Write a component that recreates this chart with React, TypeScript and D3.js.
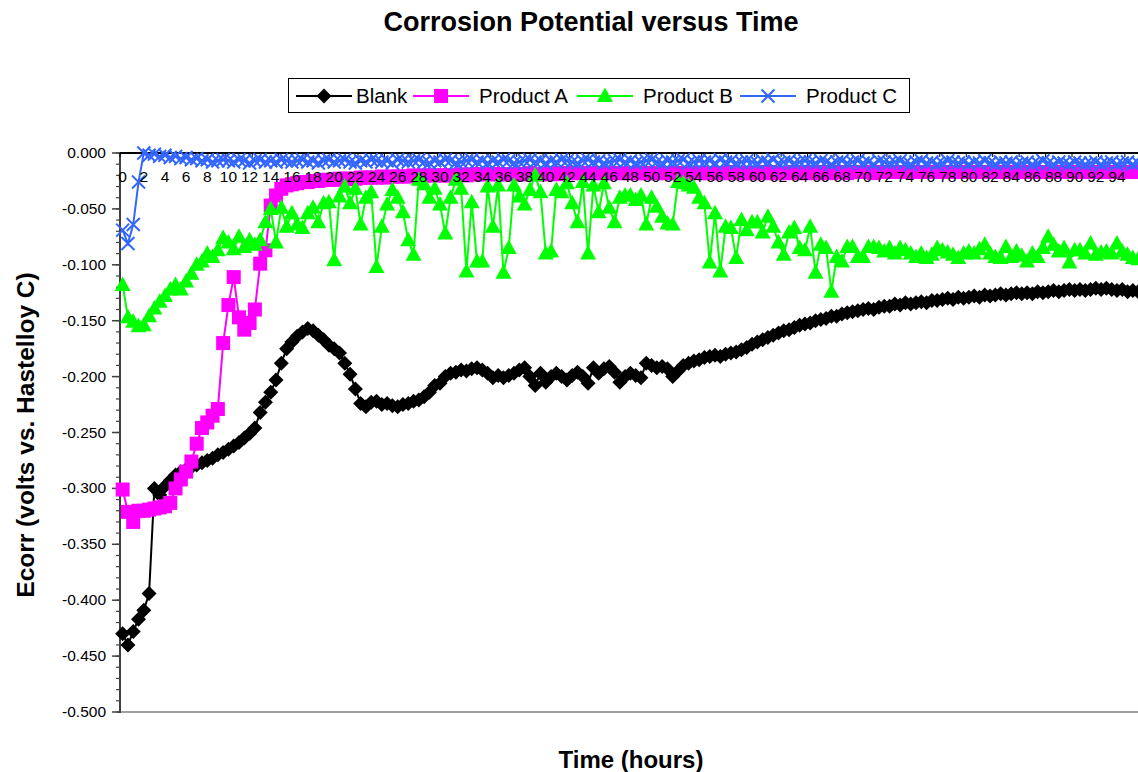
import * as d3 from 'd3';

// time categories, one reading every half hour
const hours = d3.range(0, 96.5, 0.5);

// Ecorr readings (volts vs. Hastelloy C)
const blank = [
  -0.430, -0.440, -0.428, -0.417, -0.409, -0.394, -0.300, -0.306, -0.298, -0.293,
  -0.288, -0.285, -0.283, -0.281, -0.279, -0.277, -0.275, -0.273, -0.270, -0.268,
  -0.265, -0.262, -0.259, -0.255, -0.251, -0.246, -0.232, -0.223, -0.214, -0.203,
  -0.188, -0.175, -0.169, -0.164, -0.160, -0.157, -0.159, -0.163, -0.167, -0.172,
  -0.175, -0.179, -0.188, -0.198, -0.211, -0.224, -0.227, -0.223, -0.222, -0.225,
  -0.224, -0.226, -0.227, -0.225, -0.224, -0.222, -0.221, -0.218, -0.214, -0.208,
  -0.206, -0.200, -0.197, -0.196, -0.194, -0.195, -0.193, -0.192, -0.194, -0.197,
  -0.201, -0.199, -0.201, -0.199, -0.197, -0.194, -0.192, -0.200, -0.208, -0.197,
  -0.205, -0.200, -0.197, -0.200, -0.203, -0.199, -0.196, -0.200, -0.206, -0.192,
  -0.197, -0.193, -0.191, -0.196, -0.205, -0.200, -0.197, -0.199, -0.201, -0.188,
  -0.190, -0.192, -0.191, -0.193, -0.200, -0.195, -0.190, -0.188, -0.186, -0.185,
  -0.183, -0.182, -0.181, -0.182, -0.180, -0.179, -0.178, -0.176, -0.174, -0.171,
  -0.169, -0.167, -0.165, -0.163, -0.161, -0.159, -0.158, -0.156, -0.154, -0.153,
  -0.152, -0.150, -0.149, -0.148, -0.146, -0.146, -0.144, -0.143, -0.142, -0.141,
  -0.140, -0.139, -0.140, -0.138, -0.137, -0.137, -0.135, -0.136, -0.134, -0.135,
  -0.134, -0.133, -0.134, -0.132, -0.132, -0.131, -0.130, -0.131, -0.129, -0.130,
  -0.129, -0.128, -0.129, -0.127, -0.128, -0.127, -0.126, -0.127, -0.126, -0.125,
  -0.126, -0.125, -0.126, -0.124, -0.125, -0.124, -0.123, -0.124, -0.123, -0.122,
  -0.123, -0.122, -0.123, -0.122, -0.121, -0.122, -0.121, -0.122, -0.123, -0.122,
  -0.124, -0.123, -0.124,
];

const productA = [
  -0.301, -0.321, -0.330, -0.320, -0.320, -0.319, -0.318, -0.317, -0.316, -0.313,
  -0.300, -0.292, -0.285, -0.276, -0.260, -0.246, -0.241, -0.235, -0.229, -0.170,
  -0.136, -0.111, -0.147, -0.158, -0.152, -0.140, -0.099, -0.087, -0.047, -0.038,
  -0.032, -0.029, -0.028, -0.027, -0.026, -0.026, -0.025, -0.025, -0.024, -0.024,
  -0.024, -0.023, -0.023, -0.023, -0.023, -0.022, -0.022, -0.022, -0.022, -0.021,
  -0.022, -0.021, -0.021, -0.021, -0.021, -0.020, -0.021, -0.020, -0.020, -0.020,
  -0.020, -0.020, -0.020, -0.020, -0.019, -0.020, -0.019, -0.019, -0.019, -0.019,
  -0.019, -0.019, -0.019, -0.019, -0.019, -0.019, -0.019, -0.018, -0.019, -0.019,
  -0.019, -0.018, -0.019, -0.018, -0.018, -0.018, -0.018, -0.018, -0.018, -0.018,
  -0.018, -0.018, -0.018, -0.018, -0.018, -0.018, -0.018, -0.018, -0.018, -0.018,
  -0.018, -0.018, -0.018, -0.018, -0.018, -0.018, -0.018, -0.018, -0.018, -0.018,
  -0.018, -0.018, -0.018, -0.018, -0.018, -0.017, -0.018, -0.018, -0.018, -0.018,
  -0.018, -0.018, -0.017, -0.018, -0.018, -0.018, -0.018, -0.017, -0.018, -0.018,
  -0.017, -0.018, -0.018, -0.017, -0.018, -0.017, -0.017, -0.018, -0.017, -0.017,
  -0.017, -0.017, -0.018, -0.017, -0.017, -0.017, -0.017, -0.017, -0.017, -0.017,
  -0.017, -0.017, -0.017, -0.017, -0.017, -0.017, -0.017, -0.017, -0.017, -0.017,
  -0.017, -0.017, -0.017, -0.017, -0.017, -0.017, -0.017, -0.017, -0.017, -0.017,
  -0.017, -0.017, -0.017, -0.017, -0.017, -0.017, -0.017, -0.017, -0.017, -0.017,
  -0.017, -0.017, -0.017, -0.017, -0.017, -0.017, -0.017, -0.017, -0.017, -0.017,
  -0.017, -0.017, -0.017,
];

const productB = [
  -0.118, -0.147, -0.151, -0.155, -0.154, -0.146, -0.139, -0.133, -0.128, -0.122,
  -0.118, -0.122, -0.115, -0.108, -0.100, -0.097, -0.090, -0.093, -0.087, -0.076,
  -0.080, -0.086, -0.075, -0.084, -0.078, -0.082, -0.078, -0.062, -0.050, -0.080,
  -0.049, -0.066, -0.054, -0.064, -0.067, -0.054, -0.049, -0.062, -0.045, -0.044,
  -0.096, -0.039, -0.030, -0.045, -0.032, -0.064, -0.040, -0.035, -0.102, -0.066,
  -0.046, -0.033, -0.040, -0.053, -0.078, -0.091, -0.024, -0.028, -0.040, -0.032,
  -0.046, -0.072, -0.040, -0.024, -0.032, -0.106, -0.044, -0.097, -0.097, -0.030,
  -0.066, -0.029, -0.107, -0.085, -0.029, -0.039, -0.046, -0.033, -0.020, -0.035,
  -0.090, -0.088, -0.033, -0.035, -0.027, -0.045, -0.062, -0.026, -0.090, -0.029,
  -0.053, -0.027, -0.049, -0.062, -0.040, -0.038, -0.038, -0.042, -0.038, -0.064,
  -0.040, -0.048, -0.057, -0.063, -0.064, -0.026, -0.027, -0.029, -0.031, -0.040,
  -0.045, -0.098, -0.054, -0.106, -0.066, -0.067, -0.094, -0.060, -0.069, -0.062,
  -0.062, -0.071, -0.057, -0.066, -0.080, -0.091, -0.071, -0.067, -0.085, -0.087,
  -0.066, -0.107, -0.082, -0.085, -0.124, -0.093, -0.097, -0.084, -0.084, -0.093,
  -0.093, -0.084, -0.084, -0.085, -0.088, -0.085, -0.090, -0.085, -0.087, -0.090,
  -0.093, -0.090, -0.094, -0.091, -0.085, -0.087, -0.089, -0.091, -0.094, -0.090,
  -0.088, -0.090, -0.086, -0.082, -0.090, -0.093, -0.094, -0.084, -0.093, -0.088,
  -0.092, -0.097, -0.090, -0.093, -0.085, -0.075, -0.082, -0.088, -0.085, -0.098,
  -0.087, -0.087, -0.090, -0.081, -0.091, -0.089, -0.088, -0.090, -0.081, -0.088,
  -0.091, -0.094, -0.095,
];

const productC = [
  -0.069, -0.081, -0.064, -0.026, 0.000, -0.002, -0.001, -0.003, -0.002, -0.004,
  -0.003, -0.005, -0.004, -0.006, -0.005, -0.007, -0.006, -0.008, -0.007, -0.006,
  -0.007, -0.008, -0.006, -0.007, -0.009, -0.007, -0.006, -0.008, -0.007, -0.008,
  -0.006, -0.007, -0.008, -0.007, -0.006, -0.008, -0.007, -0.009, -0.007, -0.006,
  -0.008, -0.007, -0.006, -0.008, -0.009, -0.007, -0.008, -0.006, -0.007, -0.008,
  -0.007, -0.009, -0.006, -0.007, -0.008, -0.007, -0.006, -0.008, -0.009, -0.007,
  -0.008, -0.006, -0.007, -0.009, -0.008, -0.007, -0.006, -0.008, -0.007, -0.009,
  -0.007, -0.008, -0.006, -0.007, -0.009, -0.008, -0.007, -0.006, -0.008, -0.007,
  -0.009, -0.007, -0.008, -0.006, -0.007, -0.008, -0.009, -0.007, -0.006, -0.008,
  -0.007, -0.009, -0.008, -0.007, -0.006, -0.008, -0.007, -0.009, -0.008, -0.007,
  -0.006, -0.008, -0.009, -0.007, -0.008, -0.007, -0.006, -0.009, -0.008, -0.007,
  -0.008, -0.007, -0.009, -0.006, -0.008, -0.007, -0.009, -0.008, -0.007, -0.008,
  -0.009, -0.007, -0.008, -0.006, -0.009, -0.008, -0.007, -0.009, -0.008, -0.007,
  -0.008, -0.009, -0.007, -0.008, -0.010, -0.008, -0.007, -0.009, -0.008, -0.007,
  -0.009, -0.008, -0.010, -0.007, -0.008, -0.009, -0.008, -0.007, -0.009, -0.010,
  -0.008, -0.007, -0.009, -0.008, -0.010, -0.009, -0.007, -0.008, -0.009, -0.008,
  -0.010, -0.008, -0.009, -0.007, -0.009, -0.010, -0.008, -0.009, -0.008, -0.010,
  -0.009, -0.008, -0.010, -0.009, -0.007, -0.009, -0.010, -0.008, -0.009, -0.010,
  -0.008, -0.009, -0.010, -0.009, -0.008, -0.010, -0.009, -0.008, -0.010, -0.009,
  -0.008, -0.010, -0.009,
];

const yMajor = [0, -0.05, -0.1, -0.15, -0.2, -0.25, -0.3, -0.35, -0.4, -0.45, -0.5];
const xLabels = d3.range(0, 95, 2);

const FONT = 'Arial, "Liberation Sans", sans-serif';

const series = [
  { name: 'Blank', data: blank, color: '#000000', marker: 'diamond' },
  { name: 'Product A', data: productA, color: '#FF00FF', marker: 'square' },
  { name: 'Product B', data: productB, color: '#00FF00', marker: 'triangle' },
  { name: 'Product C', data: productC, color: '#3366FF', marker: 'x' },
];

// marker drawing, Excel style
function Marker({ kind, color, cx, cy }) {
  if (kind === 'diamond')
    return <path d={`M${cx},${cy - 7.5}L${cx + 7.5},${cy}L${cx},${cy + 7.5}L${cx - 7.5},${cy}Z`} fill={color} />;
  if (kind === 'square')
    return <rect x={cx - 7} y={cy - 7} width={14} height={14} fill={color} />;
  if (kind === 'triangle')
    return <path d={`M${cx},${cy - 8.5}L${cx + 8},${cy + 6}L${cx - 8},${cy + 6}Z`} fill={color} />;
  return (
    <path
      d={`M${cx - 6.5},${cy - 6.5}L${cx + 6.5},${cy + 6.5}M${cx + 6.5},${cy - 6.5}L${cx - 6.5},${cy + 6.5}`}
      stroke={color}
      strokeWidth={2}
      fill="none"
    />
  );
}

export default function App() {
  const width = 1138;
  const height = 772;
  const plotLeft = 120;
  const plotTop = 153;
  const plotBottom = 712;

  // half-hour categories, axis crosses between categories
  const x = d3.scaleLinear().domain([-0.25, 96.25]).range([plotLeft, plotLeft + 96.5 * 10.578]);
  const y = d3.scaleLinear().domain([-0.5, 0]).range([plotBottom, plotTop]);

  const line = d3
    .line<number>()
    .x((_, i) => x(hours[i]))
    .y((d) => y(d));

  const minor = d3.range(0, 51).map((i) => -i * 0.01);
  const catTicks = d3.range(0, 40).map((k) => k * 2.5 - 0.25);

  const legendItems = [
    { lx: 296, tx: 356 },
    { lx: 413, tx: 479 },
    { lx: 577, tx: 643 },
    { lx: 740, tx: 806 },
  ];

  return (
    <div>
      <style>{'body{margin:0}'}</style>
      <svg width={width} height={height} style={{ display: 'block', background: '#fff' }}>
        <text x={591} y={31} textAnchor="middle" fontFamily={FONT} fontWeight="bold" fontSize={27}>
          Corrosion Potential versus Time
        </text>

        {/* legend */}
        <rect x={288.5} y={78.5} width={621} height={34} fill="#fff" stroke="#000" strokeWidth={1} />
        {series.map((s, i) => (
          <g key={s.name}>
            <line x1={legendItems[i].lx} x2={legendItems[i].lx + 56} y1={96} y2={96} stroke={s.color} strokeWidth={2} />
            <Marker kind={s.marker} color={s.color} cx={legendItems[i].lx + 28} cy={96} />
            <text x={legendItems[i].tx} y={103} fontFamily={FONT} fontSize={20.5}>
              {s.name}
            </text>
          </g>
        ))}

        {/* plot area bottom border */}
        <line x1={plotLeft} x2={width} y1={plotBottom} y2={plotBottom} stroke="#a0a0a0" strokeWidth={2} />

        {/* y axis */}
        <line x1={plotLeft} x2={plotLeft} y1={plotTop} y2={plotBottom + 1} stroke="#404040" strokeWidth={2} />
        {minor.map((v) => (
          <line key={v} x1={plotLeft - 4} x2={plotLeft} y1={y(v)} y2={y(v)} stroke="#404040" strokeWidth={1.2} />
        ))}
        {yMajor.map((v) => (
          <g key={v}>
            <line x1={plotLeft - 8} x2={plotLeft} y1={y(v)} y2={y(v)} stroke="#404040" strokeWidth={1.5} />
            <text x={106} y={y(v) + 5} textAnchor="end" fontFamily={FONT} fontSize={15.5}>
              {v.toFixed(3)}
            </text>
          </g>
        ))}

        {/* category axis line, crossing at 0 */}
        <line x1={plotLeft} x2={width} y1={plotTop} y2={plotTop} stroke="#000" strokeWidth={2} />
        {catTicks.map((h) => (
          <line key={h} x1={x(h)} x2={x(h)} y1={plotTop} y2={plotTop + 4} stroke="#000" strokeWidth={1} />
        ))}

        {/* series */}
        {series.map((s) => (
          <g key={s.name}>
            <path d={line(s.data) ?? ''} fill="none" stroke={s.color} strokeWidth={2} />
            {s.data.map((v, i) => (
              <Marker key={i} kind={s.marker} color={s.color} cx={x(hours[i])} cy={y(v)} />
            ))}
          </g>
        ))}

        {/* category labels sit on top of the marks */}
        {xLabels.map((h) => (
          <text key={h} x={x(h)} y={182} textAnchor="middle" fontFamily={FONT} fontSize={15.5}>
            {h}
          </text>
        ))}

        {/* axis titles */}
        <text
          transform={`translate(34,435) rotate(-90)`}
          textAnchor="middle"
          fontFamily={FONT}
          fontWeight="bold"
          fontSize={24.5}
        >
          Ecorr (volts vs. Hastelloy C)
        </text>
        <text x={631} y={768} textAnchor="middle" fontFamily={FONT} fontWeight="bold" fontSize={24}>
          Time (hours)
        </text>
      </svg>
    </div>
  );
}
